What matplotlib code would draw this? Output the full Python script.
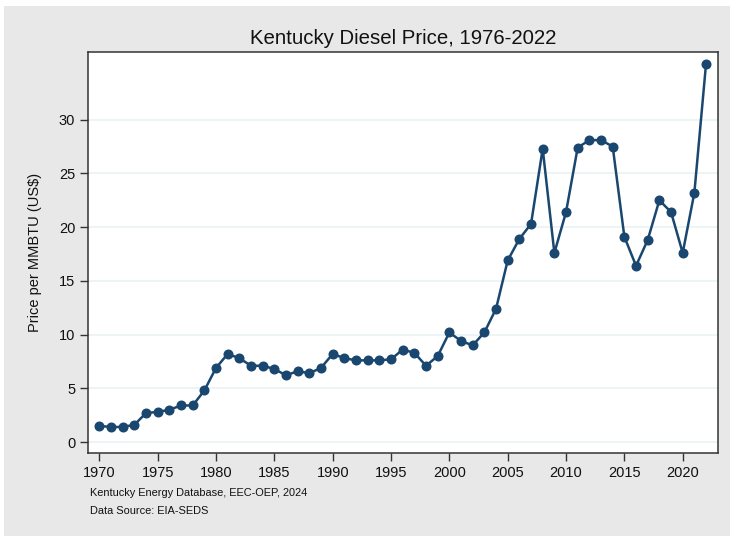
import matplotlib
matplotlib.use("Agg")
import matplotlib.pyplot as plt
from matplotlib.patches import Rectangle

plt.rcParams['font.family'] = ['Liberation Sans', 'DejaVu Sans']

years = list(range(1970, 2023))
prices = [1.5, 1.4, 1.4, 1.6, 2.7, 2.8, 3.0, 3.4, 3.4, 4.8,
          6.9, 8.2, 7.8, 7.1, 7.1, 6.8, 6.2, 6.6, 6.4, 6.9,
          8.2, 7.8, 7.6, 7.6, 7.6, 7.7, 8.6, 8.3, 7.1, 8.0,
          10.2, 9.4, 9.0, 10.2, 12.4, 16.9, 18.9, 20.3, 27.3, 17.6,
          21.4, 27.4, 28.1, 28.1, 27.5, 19.1, 16.4, 18.8, 22.5, 21.4,
          17.6, 23.2, 35.2]
xticks = list(range(1970, 2021, 5))
yticks = [0, 5, 10, 15, 20, 25, 30]
title = "Kentucky Diesel Price, 1976-2022"
ylabel = "Price per MMBTU (US$)"
notes = ["Kentucky Energy Database, EEC-OEP, 2024", "Data Source: EIA-SEDS"]

W, H = 730, 536
fig = plt.figure(figsize=(W / 100, H / 100), dpi=100)
fig.patch.set_facecolor("white")
fig.patches.append(Rectangle((4 / W, 0), 1 - 4 / W, (H - 6) / H,
                             transform=fig.transFigure, facecolor="#e8e8e8",
                             edgecolor="none", zorder=-10))

ax = fig.add_axes([87.7 / W, (H - 453.3) / H, (717.7 - 87.7) / W, (453.3 - 52) / H])
ax.set_facecolor("white")
navy = "#1a476f"
ax.plot(years, prices, color=navy, lw=1.8, marker="o", ms=6.2, mfc=navy, mec=navy, zorder=3)

ax.set_xlim(1969, 2023)
ax.set_ylim(-1.05, 36.3)
ax.set_xticks(xticks)
ax.set_yticks(yticks)
ax.grid(axis="y", color="#eaf2f3", lw=1.2, zorder=0)
ax.tick_params(axis="both", direction="out", length=6, width=1, color="#333333",
               labelsize=10.5, labelcolor="#111111")
ax.tick_params(axis="x", pad=3)
ax.tick_params(axis="y", pad=3)
for s in ax.spines.values():
    s.set_color("#333333")
    s.set_linewidth(1.1)

ax.set_title(title, fontsize=14.7, color="#111111", pad=5.5)
ax.set_ylabel(ylabel, fontsize=10.5, color="#111111", labelpad=12)

fig.text(90.5 / W, 1 - 493 / H, notes[0], fontsize=7.9, va="center", ha="left", color="#111111")
fig.text(90.5 / W, 1 - 511 / H, notes[1], fontsize=7.9, va="center", ha="left", color="#111111")

fig.savefig("out.png", dpi=100, facecolor=fig.get_facecolor())
